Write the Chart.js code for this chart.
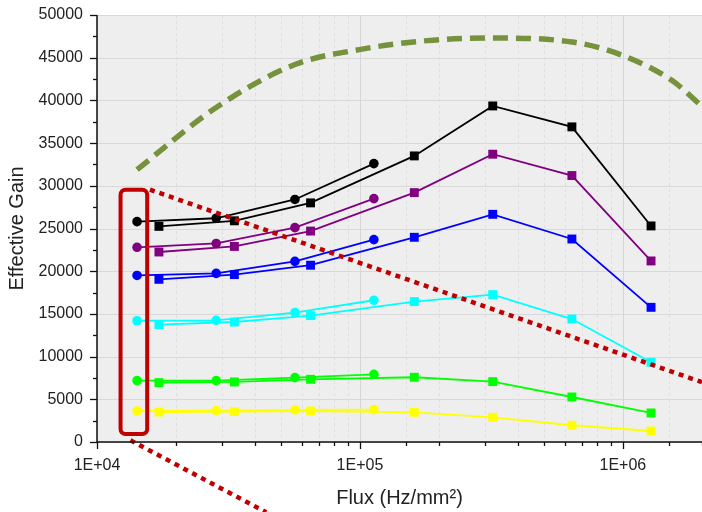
<!DOCTYPE html>
<html lang="en">
<head>
<meta charset="UTF-8">
<title>Effective Gain vs Flux</title>
<script src="https://cdn.jsdelivr.net/npm/chart.js@4.4.1/dist/chart.umd.min.js"></script>
<style>
  body { margin: 0; background: #fff; }
  #wrap { width: 702px; height: 512px; }
</style>
</head>
<body>
<div id="wrap"><canvas id="myChart"></canvas></div>
<script>
// flux values (Hz/mm2) for the two measurement sets
const fluxCircle = [14200, 28400, 56600, 113000];
const fluxSquare = [17200, 33300, 64900, 161000, 320000, 640000, 1280000];

// effective gain, circles (short runs) and squares (long runs)
const blackCircle  = [25800, 26200, 28400, 32600];
const blackSquare  = [25250, 25900, 28000, 33500, 39350, 36900, 25300];
const purpleCircle = [22800, 23250, 25100, 28500];
const purpleSquare = [22250, 22900, 24700, 29200, 33700, 31200, 21200];
const blueCircle   = [19500, 19750, 21150, 23700];
const blueSquare   = [19050, 19600, 20700, 23970, 26660, 23770, 15770];
const cyanCircle   = [14200, 14250, 15150, 16600];
const cyanSquare   = [13750, 14050, 14800, 16440, 17260, 14400, 9330];
const greenCircle  = [7190, 7190, 7540, 7930];
const greenSquare  = [6950, 7030, 7340, 7580, 7070, 5270, 3400];
const yellowCircle = [3630, 3670, 3750, 3790];
const yellowSquare = [3510, 3560, 3630, 3480, 2890, 1960, 1290];

// dashed envelope curve
const curveFlux = [14200, 28500, 56600, 99500, 180000, 318000, 641000, 991000, 1535000, 2000000];
const curveGain = [31900, 39200, 44200, 45950, 47000, 47300, 46840, 45300, 42350, 39300];

// red dotted annotation lines and box
const redLine1Flux = [15900, 2000000];
const redLine1Gain = [29550, 7000];
const redLine2Flux = [13400, 44000];
const redLine2Gain = [200, -8230];
const boxFlux = [12290, 15520];
const boxGain = [940, 29550];

const yTicks = [0, 5000, 10000, 15000, 20000, 25000, 30000, 35000, 40000, 45000, 50000];

function pts(xs, ys) { return xs.map((x, i) => ({ x: x, y: ys[i] })); }

const series = [
  ['#000000', blackCircle, blackSquare],
  ['#800080', purpleCircle, purpleSquare],
  ['#0000ff', blueCircle, blueSquare],
  ['#00ffff', cyanCircle, cyanSquare],
  ['#00ff00', greenCircle, greenSquare],
  ['#ffff00', yellowCircle, yellowSquare]
];

const datasets = [];
datasets.push({
  data: pts(redLine1Flux, redLine1Gain), borderColor: '#c00000', borderWidth: 4.5,
  borderDash: [5, 5], pointRadius: 0, order: 0
});
datasets.push({
  data: pts(redLine2Flux, redLine2Gain), borderColor: '#c00000', borderWidth: 4.5,
  borderDash: [5, 5], pointRadius: 0, order: 0, clip: false
});
series.forEach(s => {
  datasets.push({
    data: pts(fluxCircle, s[1]), borderColor: s[0], backgroundColor: s[0],
    borderWidth: 1.8, pointStyle: 'circle', pointRadius: 4.8, pointBorderWidth: 0, order: 2
  });
  datasets.push({
    data: pts(fluxSquare, s[2]), borderColor: s[0], backgroundColor: s[0],
    borderWidth: 1.8, pointStyle: 'rect', pointRadius: 6.3, pointBorderWidth: 0, order: 2
  });
});
datasets.push({
  data: pts(curveFlux, curveGain), borderColor: '#76923c', borderWidth: 5.5,
  borderDash: [15, 8], pointRadius: 0, cubicInterpolationMode: 'monotone', order: 3
});

const frame = {
  id: 'frame',
  beforeDatasetsDraw(chart) {
    const ctx = chart.ctx, a = chart.chartArea;
    const x = chart.scales.x, y = chart.scales.y;
    ctx.save();
    ctx.fillStyle = '#eeeeee';
    ctx.fillRect(a.left, a.top, a.right - a.left, a.bottom - a.top);
    ctx.strokeStyle = '#d9d9d9';
    ctx.lineWidth = 1;
    yTicks.forEach(v => {
      const py = Math.round(y.getPixelForValue(v)) + 0.5;
      ctx.beginPath(); ctx.moveTo(a.left, py); ctx.lineTo(a.right, py); ctx.stroke();
    });
    x.ticks.forEach(t => {
      const px = Math.round(x.getPixelForValue(t.value)) + 0.5;
      const major = Math.abs(Math.log10(t.value) % 1) < 1e-9;
      ctx.setLineDash(major ? [] : [3, 3]);
      ctx.strokeStyle = major ? '#d6d6d6' : '#dedede';
      ctx.beginPath(); ctx.moveTo(px, a.top); ctx.lineTo(px, a.bottom); ctx.stroke();
    });
    ctx.restore();
  },
  afterDatasetsDraw(chart) {
    const ctx = chart.ctx, a = chart.chartArea;
    const x = chart.scales.x, y = chart.scales.y;
    ctx.save();
    // annotation box
    const bx0 = x.getPixelForValue(boxFlux[0]), bx1 = x.getPixelForValue(boxFlux[1]);
    const by0 = y.getPixelForValue(boxGain[1]), by1 = y.getPixelForValue(boxGain[0]);
    ctx.strokeStyle = '#c00000';
    ctx.lineWidth = 4;
    ctx.beginPath();
    ctx.roundRect(bx0, by0, bx1 - bx0, by1 - by0, 5);
    ctx.stroke();
    // axes and ticks
    ctx.strokeStyle = '#111';
    ctx.lineWidth = 1.5;
    ctx.beginPath();
    ctx.moveTo(a.left, a.top); ctx.lineTo(a.left, a.bottom); ctx.lineTo(a.right, a.bottom);
    ctx.stroke();
    ctx.lineWidth = 1.3;
    for (let v = 0; v <= 50000; v += 2500) {
      const py = Math.round(y.getPixelForValue(v)) + 0.5;
      const len = v % 5000 === 0 ? 7 : 4;
      ctx.beginPath(); ctx.moveTo(a.left - len, py); ctx.lineTo(a.left, py); ctx.stroke();
    }
    x.ticks.forEach(t => {
      const px = Math.round(x.getPixelForValue(t.value)) + 0.5;
      const major = Math.abs(Math.log10(t.value) % 1) < 1e-9;
      const len = major ? 7 : 4;
      ctx.beginPath(); ctx.moveTo(px, a.bottom); ctx.lineTo(px, a.bottom + len); ctx.stroke();
    });
    ctx.restore();
  }
};

const font = "'Liberation Sans', Arial, sans-serif";

new Chart(document.getElementById('myChart'), {
  type: 'line',
  data: { datasets: datasets },
  plugins: [frame],
  options: {
    responsive: true,
    maintainAspectRatio: false,
    animation: false,
    layout: { autoPadding: false, padding: { top: 15, right: 0, left: 0, bottom: 0 } },
    plugins: { legend: { display: false }, tooltip: { enabled: false } },
    scales: {
      x: {
        type: 'logarithmic',
        min: 10000,
        max: 2000000,
        afterFit(scale) {
          scale.height = 70;
          scale.paddingLeft = 0;
          scale.paddingRight = 0;
        },
        grid: { display: false, drawTicks: false },
        border: { display: false },
        ticks: {
          autoSkip: false, maxRotation: 0, padding: 14,
          color: '#222', font: { family: font, size: 16 },
          callback(v) {
            const e = Math.log10(v);
            if (Math.abs(e - Math.round(e)) > 1e-9) return '';
            return '1E+' + String(Math.round(e)).padStart(2, '0');
          }
        },
        title: {
          display: true, text: 'Flux (Hz/mm²)', color: '#222',
          font: { family: font, size: 20 }, padding: { top: 0, bottom: 2 }
        }
      },
      y: {
        min: 0,
        max: 50000,
        afterFit(scale) {
          scale.width = 97;
          scale.paddingTop = 0;
          scale.paddingBottom = 0;
        },
        afterBuildTicks(scale) { scale.ticks = yTicks.map(v => ({ value: v })); },
        grid: { display: false, drawTicks: false },
        border: { display: false },
        ticks: {
          autoSkip: false, padding: 14,
          color: '#222', font: { family: font, size: 16 },
          callback(v) { return String(v); }
        },
        title: {
          display: true, text: 'Effective Gain', color: '#222',
          font: { family: font, size: 20 }, padding: { top: 5, bottom: 0 }
        }
      }
    }
  }
});
</script>
</body>
</html>
